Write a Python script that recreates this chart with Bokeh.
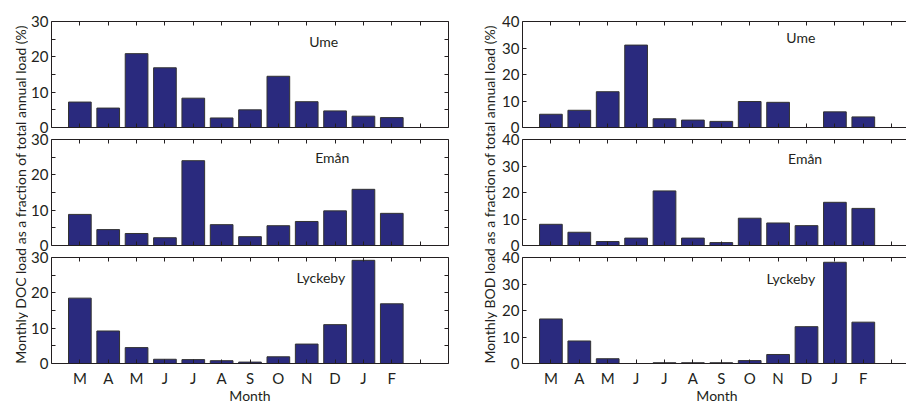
import math
from bokeh.plotting import figure
from bokeh.models import Range1d, FixedTicker, LinearAxis, CustomLabelingPolicy
from bokeh.layouts import row, column
from bokeh.embed import file_html
from bokeh.resources import INLINE
from bokeh.core.properties import value

# ---- data ----
months = ["M", "A", "M", "J", "J", "A", "S", "O", "N", "D", "J", "F"]
month_pos = [1, 2, 3, 4, 5, 6, 7, 8, 9, 10, 11, 12]
rivers = ["Ume", "Emån", "Lyckeby"]

doc_ume = [7.2, 5.5, 20.9, 16.9, 8.3, 2.7, 5.0, 14.5, 7.3, 4.7, 3.2, 2.8]
doc_eman = [8.8, 4.5, 3.4, 2.2, 24.0, 5.9, 2.5, 5.6, 6.8, 9.8, 15.9, 9.1]
doc_lyckeby = [18.5, 9.2, 4.5, 1.2, 1.1, 0.8, 0.4, 1.9, 5.5, 11.0, 29.2, 16.9]

bod_ume = [5.0, 6.5, 13.5, 31.1, 3.3, 2.8, 2.3, 9.8, 9.5, 0.0, 5.9, 4.0]
bod_eman = [8.0, 5.0, 1.5, 2.8, 20.6, 2.8, 1.1, 10.3, 8.5, 7.5, 16.3, 14.0]
bod_lyckeby = [16.8, 8.5, 1.8, 0.0, 0.3, 0.3, 0.3, 1.1, 3.4, 13.9, 38.2, 15.6]

doc_yticks = [0, 5, 10, 15, 20, 25, 30]
bod_yticks = [0, 10, 20, 30, 40]
doc_label = "Monthly DOC load  as a fraction of total annual load (%)"
bod_label = "Monthly BOD load  as a fraction of total annual load (%)"
x_label = "Month"

# ---- style ----
FONT = "Lato"
TXT = "#231f20"
BAR_FILL = "#2a2a7e"
BAR_LINE = "#333333"
FH = 106


def axis(ticks, labels=None, hide=False, **kw):
    a = LinearAxis(ticker=FixedTicker(ticks=ticks),
                   major_tick_in=4, major_tick_out=0,
                   minor_tick_in=0, minor_tick_out=0,
                   axis_line_color=TXT, major_tick_line_color=TXT,
                   major_label_text_font=FONT,
                   major_label_text_color=TXT,
                   major_label_text_font_size="15px", **kw)
    if labels is not None:
        a.major_label_overrides = labels
    if hide:
        a.major_label_overrides = {t: "" for t in ticks}
        a.major_label_policy = CustomLabelingPolicy(code="return new Set()")
        a.major_label_standoff = 0
    return a


def panel(vals, name, name_xy, ymax, yticks, ylabel_map, fw, xend,
          top, bottom, left, right, show_x, show_right):
    p = figure(frame_width=fw, frame_height=FH,
               x_range=Range1d(0, xend), y_range=Range1d(0, ymax),
               output_backend="svg", toolbar_location=None,
               x_axis_location=None, y_axis_location=None,
               min_border_top=top, min_border_bottom=bottom,
               min_border_left=left, min_border_right=right,
               outline_line_color=None, background_fill_color="white",
               border_fill_color="white")
    p.xgrid.visible = False
    p.ygrid.visible = False
    p.vbar(x=month_pos, top=vals, width=0.8, bottom=0,
           fill_color=BAR_FILL, line_color=BAR_LINE, line_width=1)
    p.add_layout(axis(yticks, ylabel_map, major_label_standoff=3), "left")
    xt = list(range(1, 14))
    p.add_layout(axis(xt, hide=True), "above")
    if show_x:
        labs = {i + 1: m for i, m in enumerate(months)}
        labs[13] = ""
        bx = axis(xt, labs, major_label_standoff=5,
                  axis_label=x_label, axis_label_standoff=-3,
                  axis_label_text_font=FONT, axis_label_text_font_size="14px",
                  axis_label_text_font_style="normal",
                  axis_label_text_color=TXT)
    else:
        bx = axis(xt, hide=True)
    p.add_layout(bx, "below")
    if show_right:
        p.add_layout(axis(doc_yticks, hide=True), "right")
    p.text(x=[name_xy[0]], y=[name_xy[1]], text=[name],
           text_font=value(FONT), text_font_size="14px",
           text_color=TXT, text_align="center", text_baseline="middle")
    return p


def label_fig(w, h, x, y, text):
    p = figure(width=w, height=h, x_range=Range1d(0, w), y_range=Range1d(0, h),
               output_backend="svg", toolbar_location=None,
               x_axis_location=None, y_axis_location=None,
               min_border=0, outline_line_color=None)
    p.xgrid.visible = False
    p.ygrid.visible = False
    p.text(x=[x], y=[y], text=[text], angle=math.pi / 2,
           text_font=value(FONT), text_font_size="14px", text_color=TXT,
           text_align="center", text_baseline="middle")
    return p


doc_map = {t: ("" if t % 10 else str(t)) for t in doc_yticks}
bod_map = {t: str(t) for t in bod_yticks}

LW = 397
LX = 14
RW = 389
RX = RW / 28.4

borders = [(21, 6), (6, 6), (6, 40)]
doc_vals = [doc_ume, doc_eman, doc_lyckeby]
bod_vals = [bod_ume, bod_eman, bod_lyckeby]
doc_pos = [(9.6, 24.3), (9.9, 24.8), (9.5, 24.3)]
bod_pos = [(9.8, 33.8), (9.95, 32.8), (9.45, 32.2)]

left_panels = []
right_panels = []
for i in range(3):
    t, b = borders[i]
    left_panels.append(panel(doc_vals[i], rivers[i], doc_pos[i], 30, doc_yticks,
                             doc_map, LW, LX, t, b, 21, 25, i == 2, True))
    right_panels.append(panel(bod_vals[i], rivers[i], bod_pos[i], 40, bod_yticks,
                              bod_map, RW, RX, t, b, 20, 0, i == 2, False))

H = (21 + FH + 6) + (6 + FH + 6) + (6 + FH + 40)
lab_l = label_fig(28, H, 20, H - 192, doc_label)
lab_r = label_fig(26, H, 16, H - 192, bod_label)

layout = row(lab_l, column(*left_panels), lab_r, column(*right_panels))

open("out.html", "w").write(file_html(layout, INLINE))
